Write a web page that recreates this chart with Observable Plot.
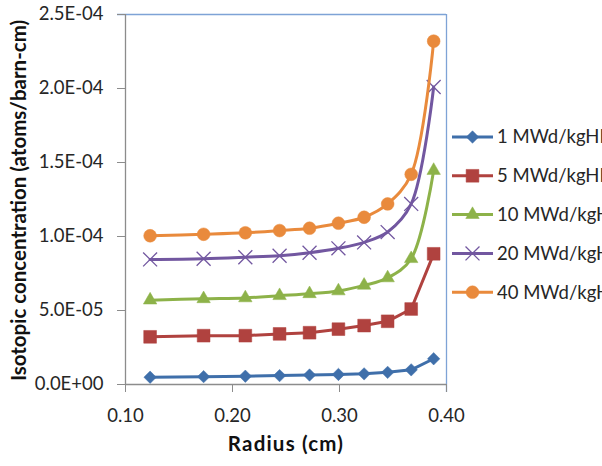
<!DOCTYPE html>
<html>
<head>
<meta charset="utf-8">
<script src="https://cdn.jsdelivr.net/npm/d3@7"></script>
<script src="https://cdn.jsdelivr.net/npm/@observablehq/plot@0.6"></script>
<style>
  html, body { margin: 0; padding: 0; background: #fff; overflow: hidden; }
  #chart svg { display: block; }
</style>
</head>
<body>
<div id="chart"></div>
<script>
// Radial positions of the fuel rings (cm)
const radius = [0.123, 0.173, 0.212, 0.244, 0.272, 0.299, 0.323, 0.345, 0.367, 0.388];

// Isotopic concentration (atoms/barn-cm) at each burnup step
const burnup1  = [4.9e-6, 5.3e-6, 5.6e-6, 6.0e-6, 6.4e-6, 6.8e-6, 7.2e-6, 8.2e-6, 9.9e-6, 1.74e-5];
const burnup5  = [3.22e-5, 3.30e-5, 3.30e-5, 3.42e-5, 3.50e-5, 3.74e-5, 3.98e-5, 4.27e-5, 5.10e-5, 8.83e-5];
const burnup10 = [5.70e-5, 5.79e-5, 5.85e-5, 6.00e-5, 6.13e-5, 6.32e-5, 6.70e-5, 7.20e-5, 8.50e-5, 1.446e-4];
const burnup20 = [8.45e-5, 8.50e-5, 8.60e-5, 8.70e-5, 8.90e-5, 9.20e-5, 9.60e-5, 1.03e-4, 1.22e-4, 2.01e-4];
const burnup40 = [1.005e-4, 1.015e-4, 1.025e-4, 1.04e-4, 1.056e-4, 1.09e-4, 1.13e-4, 1.22e-4, 1.42e-4, 2.32e-4];

const seriesNames = ["1 MWd/kgHM", "5 MWd/kgHM", "10 MWd/kgHM", "20 MWd/kgHM", "40 MWd/kgHM"];
const seriesValues = [burnup1, burnup5, burnup10, burnup20, burnup40];

// Axis ticks
const xTicks = [0.10, 0.20, 0.30, 0.40];
const yTicks = [0, 5e-5, 1e-4, 1.5e-4, 2e-4, 2.5e-4];

// Series styling
const seriesColors  = ["#3F6FAA", "#B0423F", "#8DB249", "#7257A0", "#E98A3C"];
const seriesSymbols = ["diamond2", "square", "triangle", "times", "circle"];
const seriesSizes   = [5.6, 7.2, 5.0, 6.4, 6.4];
const seriesCurves  = ["linear", "linear", "catmull-rom", "catmull-rom", "catmull-rom"];

const FONT = "Lato, 'DejaVu Sans', sans-serif";
const TEXT = "#262626";
const AXIS = "#8C8C8C";
const BORDER = "#7EA3D6";

function sci(v) {
  if (v === 0) return "0.0E+00";
  const [m, e] = v.toExponential(1).split("e");
  const n = +e;
  return m + "E" + (n < 0 ? "-" : "+") + String(Math.abs(n)).padStart(2, "0");
}

const rows = seriesValues.flatMap((vals, k) =>
  radius.map((r, j) => ({ r, c: vals[j], k }))
);

const seriesMarks = seriesValues.flatMap((_, k) => {
  const data = rows.filter(d => d.k === k);
  const color = seriesColors[k];
  const isTimes = seriesSymbols[k] === "times";
  return [
    Plot.line(data, { x: "r", y: "c", stroke: color, strokeWidth: 3, curve: seriesCurves[k] }),
    Plot.dot(data, {
      x: "r", y: "c",
      symbol: seriesSymbols[k],
      r: seriesSizes[k],
      fill: isTimes ? "none" : color,
      stroke: color,
      strokeWidth: isTimes ? 1.3 : 0.5
    })
  ];
});

const chart = Plot.plot({
  width: 602,
  height: 466,
  marginLeft: 125,
  marginRight: 156,
  marginTop: 14,
  marginBottom: 82,
  style: { fontFamily: FONT, fontSize: "18.5px", color: TEXT, background: "#fff" },
  x: { domain: [0.1, 0.4] },
  y: { domain: [0, 2.5e-4] },
  marks: [
    // plot-area border (top and right)
    Plot.ruleY([2.5e-4], { stroke: BORDER, strokeWidth: 1.3, insetLeft: -8 }),
    Plot.ruleX([0.4], { stroke: BORDER, strokeWidth: 1.3, insetBottom: -8 }),
    // axis lines
    Plot.ruleX([0.1], { stroke: AXIS, strokeWidth: 1.3 }),
    Plot.ruleY([0], { stroke: AXIS, strokeWidth: 1.3 }),
    Plot.axisY({
      ticks: yTicks, tickFormat: sci, tickSize: 8, tickPadding: 14,
      stroke: AXIS, fill: TEXT, fontSize: 18.5, label: null
    }),
    Plot.axisX({
      ticks: xTicks, tickFormat: d => d.toFixed(2), tickSize: 8, tickPadding: 16,
      stroke: AXIS, fill: TEXT, fontSize: 18.5, label: null
    }),
    ...seriesMarks,
    // axis titles
    Plot.text(["Isotopic concentration (atoms/barn-cm)"], {
      frameAnchor: "left", textAnchor: "middle", dx: -106, dy: 1, rotate: -90,
      fontWeight: "bold", fontSize: 20.5, fill: "#111"
    }),
    Plot.text(["Radius (cm)"], {
      frameAnchor: "bottom", dy: 66, fontWeight: "bold", fontSize: 20.5, fill: "#111"
    })
  ]
});

// Widen the x-axis title a little, as drawn with a wider face
d3.select(chart).selectAll("text")
  .filter(function () { return this.textContent === "Radius (cm)"; })
  .attr("letter-spacing", "1.2px");

// Legend to the right of the plot area
const svg = d3.select(chart);
const symbolTypes = {
  diamond2: d3.symbolDiamond2, square: d3.symbolSquare, triangle: d3.symbolTriangle,
  times: d3.symbolTimes, circle: d3.symbolCircle
};
const legend = svg.append("g")
  .attr("font-family", FONT).attr("font-size", 18.5).attr("text-anchor", "start");
seriesNames.forEach((name, k) => {
  const y = 137 + k * 38.8;
  const g = legend.append("g").attr("transform", `translate(452,${y})`);
  const color = seriesColors[k];
  g.append("line").attr("x1", 0).attr("x2", 41).attr("y1", 0).attr("y2", 0)
    .attr("stroke", color).attr("stroke-width", 3);
  const isTimes = seriesSymbols[k] === "times";
  const rr = seriesSizes[k];
  g.append("path")
    .attr("transform", "translate(20.5,0)")
    .attr("d", d3.symbol(symbolTypes[seriesSymbols[k]], Math.PI * rr * rr)())
    .attr("fill", isTimes ? "none" : color)
    .attr("stroke", color)
    .attr("stroke-width", isTimes ? 1.3 : 0.5);
  g.append("text").attr("x", 45).attr("y", 0).attr("dy", "0.35em")
    .attr("fill", TEXT).text(name);
});

document.getElementById("chart").appendChild(chart);
</script>
</body>
</html>
